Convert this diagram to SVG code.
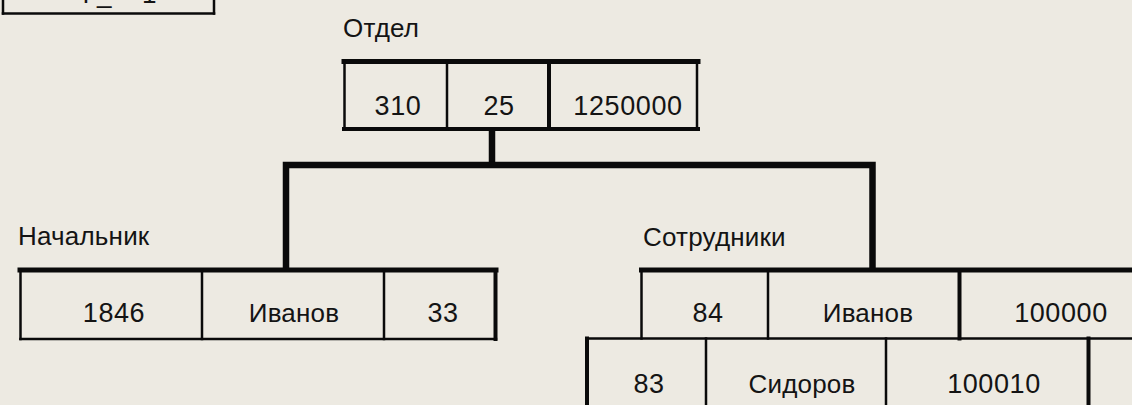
<svg xmlns="http://www.w3.org/2000/svg" width="1132" height="405" viewBox="0 0 1132 405">
  <defs>
    <style>
      .bg { fill: #EDEAE2; }
      line, path { stroke: #0a0a0a; fill: none; stroke-linecap: square; }
      .thin { stroke-width: 2.5; }
      .mid { stroke-width: 4; }
      .thick { stroke-width: 5; }
      .link { stroke-width: 6.5; stroke-linejoin: miter; stroke-linecap: butt; }
      text { font-family: "Liberation Sans", Arial, sans-serif; fill: #141414; }
      .label { font-size: 26px; letter-spacing: 0.2px; }
      .word { font-size: 26px; letter-spacing: 0.2px; text-anchor: middle; }
      .num { font-size: 27px; letter-spacing: 0.6px; text-anchor: middle; }
    </style>
  </defs>

  <rect class="bg" x="0" y="0" width="1132" height="405"/>

  <!-- table box cut off by the top edge -->
  <g id="table-caption">
    <line class="thin" x1="3" y1="-5" x2="3" y2="13.5"/>
    <line class="thin" x1="3" y1="13.5" x2="214" y2="13.5"/>
    <line class="thin" x1="214" y1="-5" x2="214" y2="13.5"/>
    <text class="label" x="78 97 142" y="2.5">Т_1</text>
  </g>

  <!-- links between the records -->
  <g id="connectors">
    <line class="link" x1="492" y1="129" x2="492" y2="165"/>
    <path class="link" d="M286,270 V165 H872.5 V270"/>
  </g>

  <!-- department record -->
  <g id="node-otdel">
    <text class="label" x="343" y="37">Отдел</text>
    <line class="thick" x1="344" y1="61.5" x2="698" y2="61.5"/>
    <line class="mid" x1="344" y1="129" x2="698" y2="129"/>
    <line class="thin" x1="344.5" y1="61" x2="344.5" y2="129"/>
    <line class="thin" x1="697" y1="61" x2="697" y2="129"/>
    <line class="thin" x1="447" y1="61" x2="447" y2="129"/>
    <line class="mid" x1="549" y1="61" x2="549" y2="129"/>
    <text class="num" x="398" y="115">310</text>
    <text class="num" x="499" y="115">25</text>
    <text class="num" x="628" y="115">1250000</text>
  </g>

  <!-- head of department record -->
  <g id="node-nachalnik">
    <text class="label" x="18" y="245">Начальник</text>
    <line class="thick" x1="20" y1="270" x2="496" y2="270"/>
    <line class="thin" x1="20.5" y1="339" x2="496" y2="339"/>
    <line class="thin" x1="20.5" y1="270" x2="20.5" y2="339"/>
    <line class="thin" x1="202" y1="270" x2="202" y2="339"/>
    <line class="thin" x1="384" y1="270" x2="384" y2="339"/>
    <line class="mid" x1="495.5" y1="270" x2="495.5" y2="339"/>
    <text class="num" x="114" y="322">1846</text>
    <text class="word" x="294" y="322">Иванов</text>
    <text class="num" x="443" y="322">33</text>
  </g>

  <!-- staff records -->
  <g id="node-sotrudniki">
    <text class="label" x="643" y="246">Сотрудники</text>
    <!-- first row -->
    <line class="thick" x1="641.5" y1="270" x2="1140" y2="270"/>
    <line class="thin" x1="641.5" y1="270" x2="641.5" y2="338.5"/>
    <line class="thin" x1="768" y1="270" x2="768" y2="338.5"/>
    <line class="mid" x1="959.5" y1="270" x2="959.5" y2="338.5"/>
    <text class="num" x="708" y="322">84</text>
    <text class="word" x="868" y="322">Иванов</text>
    <text class="num" x="1061" y="322">100000</text>
    <!-- second row -->
    <line class="thin" x1="587" y1="338.5" x2="1140" y2="338.5"/>
    <line class="mid" x1="587" y1="338.5" x2="587" y2="410"/>
    <line class="thin" x1="706" y1="338.5" x2="706" y2="410"/>
    <line class="thin" x1="886" y1="338.5" x2="886" y2="410"/>
    <line class="mid" x1="1088.5" y1="338.5" x2="1088.5" y2="410"/>
    <text class="num" x="649" y="393">83</text>
    <text class="word" x="802" y="393">Сидоров</text>
    <text class="num" x="994" y="393">100010</text>
  </g>
</svg>
